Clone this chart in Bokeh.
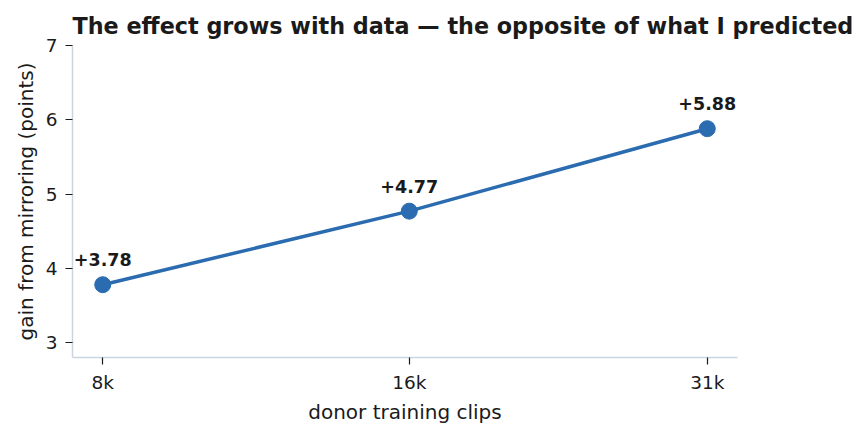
import math
from bokeh.plotting import figure
from bokeh.models import ColumnDataSource, FixedTicker, Range1d
from bokeh.core.properties import value
from bokeh.embed import file_html
from bokeh.resources import INLINE

categories = ["8k", "16k", "31k"]
clips = [8000, 15900, 31000]
gains = [3.78, 4.77, 5.88]
labels = ["+3.78", "+4.77", "+5.88"]
y_ticks = [3, 4, 5, 6, 7]

FONT = "DejaVu Sans"
COLOR = "#2b6cb0"
TXT = "#1a1a1a"
AXC = "#cbd5e1"

src = ColumnDataSource(dict(x=clips, y=gains, lab=labels))

span = math.log(max(clips) / min(clips))
pad = math.exp(0.05 * span)

p = figure(width=868, height=436, output_backend="svg", toolbar_location=None,
           x_axis_type="log",
           x_range=Range1d(min(clips) / pad, max(clips) * pad), y_range=Range1d(2.8, 7.0),
           min_border_left=72, min_border_right=131, min_border_top=45, min_border_bottom=79)
p.title.text = "The effect grows with data \u2014 the opposite of what I predicted"
p.title.text_font = FONT
p.title.text_font_size = "22.3px"
p.title.text_font_style = "bold"
p.title.text_color = TXT
p.title.offset = 0
p.title.standoff = 13

p.line("x", "y", source=src, line_color=COLOR, line_width=3.5)
p.scatter("x", "y", source=src, size=16, fill_color=COLOR, line_color=COLOR)
p.text("x", "y", text="lab", source=src, text_align="center", text_baseline="middle",
       y_offset=-25, text_font=value(FONT), text_font_size="17.5px", text_font_style="bold",
       text_color=TXT)

p.xgrid.visible = False
p.ygrid.visible = False
p.outline_line_color = None

for ax in (p.xaxis, p.yaxis):
    ax.axis_line_color = AXC
    ax.axis_line_width = 1.5
    ax.major_tick_line_color = TXT
    ax.major_tick_line_width = 1.2
    ax.major_tick_out = 7
    ax.major_tick_in = 0
    ax.minor_tick_line_color = None
    ax.major_label_text_font = FONT
    ax.major_label_text_font_size = "18.5px"
    ax.major_label_text_color = TXT
    ax.axis_label_text_font = FONT
    ax.axis_label_text_font_size = "20px"
    ax.axis_label_text_font_style = "normal"
    ax.axis_label_text_color = TXT

p.xaxis.ticker = FixedTicker(ticks=clips, minor_ticks=[])
p.xaxis.major_label_overrides = {c: lab for c, lab in zip(clips, categories)}
p.xaxis.axis_label = "donor training clips"
p.xaxis.major_label_standoff = 7
p.xaxis.axis_label_standoff = 4
p.yaxis.ticker = FixedTicker(ticks=y_ticks)
p.yaxis.axis_label = "gain from mirroring (points)"
p.yaxis.major_label_standoff = 8
p.yaxis.axis_label_standoff = 5

open("out.html", "w").write(file_html(p, INLINE))
